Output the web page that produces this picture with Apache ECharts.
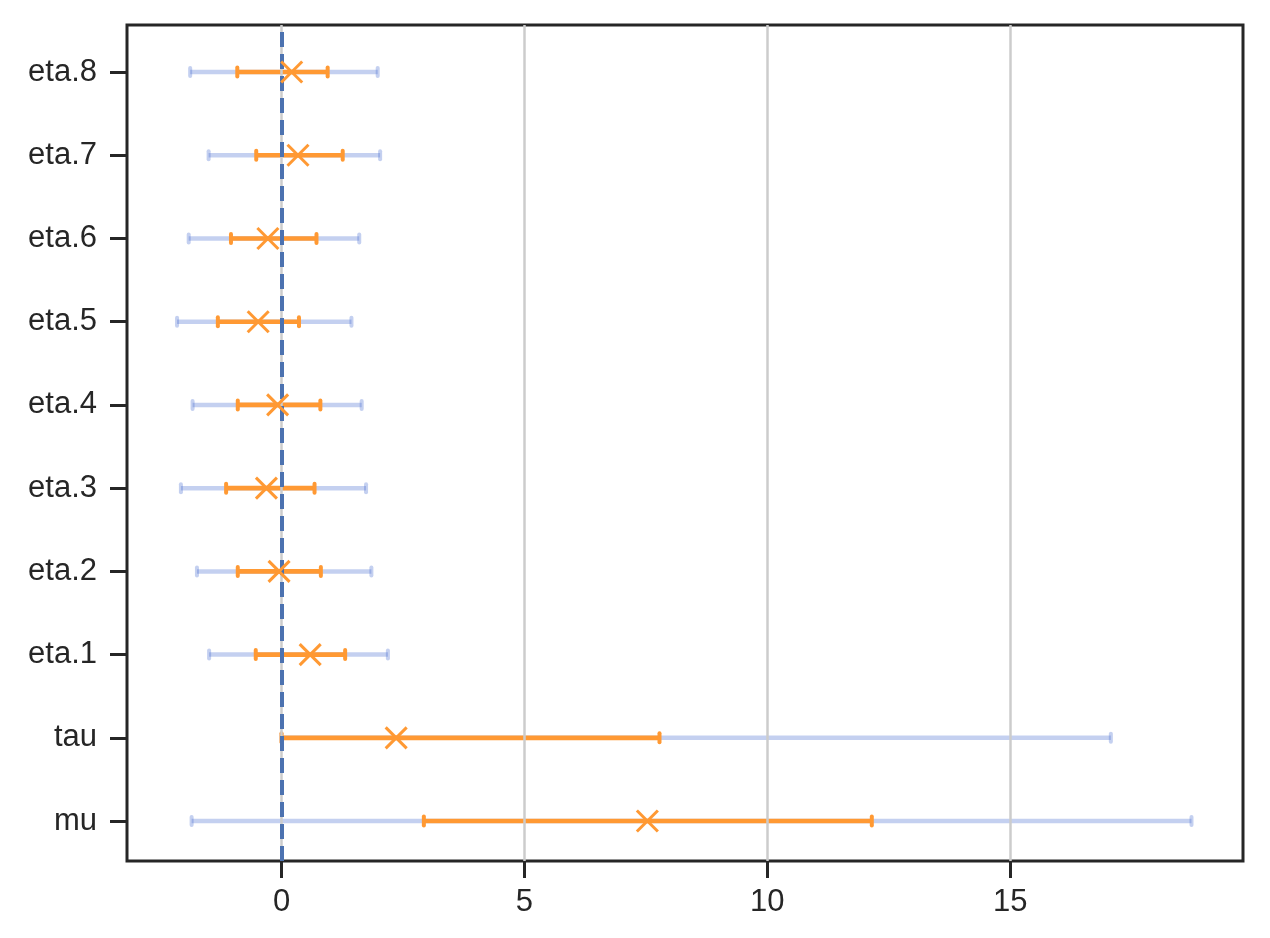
<!DOCTYPE html>
<html>
<head>
<meta charset="utf-8">
<script src="https://cdn.jsdelivr.net/npm/echarts@6/dist/echarts.min.js"></script>
<style>html,body{margin:0;padding:0;background:#fff}#c{width:1270px;height:938px}</style>
</head>
<body>
<div id="c"></div>
<script>
// ---- data ----
const labels   = ['mu', 'tau', 'eta.1', 'eta.2', 'eta.3', 'eta.4', 'eta.5', 'eta.6', 'eta.7', 'eta.8'];
const means    = [7.53, 2.36, 0.59, -0.05, -0.31, -0.08, -0.48, -0.28, 0.34, 0.21];
const innerLo  = [2.93, 0.00, -0.53, -0.90, -1.14, -0.90, -1.31, -1.04, -0.52, -0.91];
const innerHi  = [12.15, 7.78, 1.31, 0.81, 0.68, 0.80, 0.36, 0.72, 1.26, 0.95];
const outerLo  = [-1.85, 0.00, -1.49, -1.74, -2.07, -1.83, -2.15, -1.91, -1.50, -1.88];
const outerHi  = [18.73, 17.07, 2.19, 1.85, 1.74, 1.65, 1.44, 1.60, 2.03, 1.98];
const xTicks   = [0, 5, 10, 15];
const refValue = 0;

const ORANGE = '#ff9933';
const BLUE = '#4c72b0';
const LIGHT = 'rgba(60,100,205,0.3)';
const DARK = '#262626';
const FONT = "'Liberation Sans', Arial, sans-serif";

function barData(lo, hi) { return lo.map((v, i) => [v, hi[i], i]); }

function errRender(color, width, capH, capW) {
  return function (params, api) {
    const a = api.coord([api.value(0), api.value(2)]);
    const b = api.coord([api.value(1), api.value(2)]);
    const st = { stroke: color, lineWidth: width, fill: null };
    const cs = { stroke: color, lineWidth: capW, fill: null, lineCap: 'round' };
    return {
      type: 'group',
      children: [
        { type: 'line', shape: { x1: a[0], y1: a[1], x2: b[0], y2: b[1] }, style: st },
        { type: 'line', shape: { x1: a[0], y1: a[1] - capH / 2, x2: a[0], y2: a[1] + capH / 2 }, style: cs },
        { type: 'line', shape: { x1: b[0], y1: b[1] - capH / 2, x2: b[0], y2: b[1] + capH / 2 }, style: cs }
      ]
    };
  };
}

function markRender(params, api) {
  const p = api.coord([api.value(0), api.value(1)]);
  const r = 10.5;
  const st = { stroke: ORANGE, lineWidth: 3, fill: null };
  return {
    type: 'group',
    children: [
      { type: 'line', shape: { x1: p[0] - r, y1: p[1] - r, x2: p[0] + r, y2: p[1] + r }, style: st },
      { type: 'line', shape: { x1: p[0] - r, y1: p[1] + r, x2: p[0] + r, y2: p[1] - r }, style: st }
    ]
  };
}

const chart = echarts.init(document.getElementById('c'), null, { renderer: 'canvas' });
chart.setOption({
  animation: false,
  backgroundColor: '#fff',
  grid: { left: 127, right: 27, top: 25, bottom: 77, show: true, borderColor: DARK, borderWidth: 3, backgroundColor: 'transparent', containLabel: false },
  xAxis: {
    type: 'value', min: -3.18, max: 19.79,
    axisLine: { show: false, onZero: false },
    axisTick: { show: true, customValues: xTicks, length: 17, lineStyle: { color: DARK, width: 3 } },
    axisLabel: { show: true, customValues: xTicks, margin: 26, color: DARK, fontSize: 31, fontFamily: FONT },
    splitLine: { show: false }
  },
  yAxis: {
    type: 'value', min: -0.48, max: 9.565,
    axisLine: { show: false, onZero: false },
    axisTick: { show: true, customValues: labels.map((_, i) => i), length: 17, lineStyle: { color: DARK, width: 3 } },
    axisLabel: { show: true, customValues: labels.map((_, i) => i), margin: 30, color: DARK, fontSize: 31, fontFamily: FONT,
      formatter: v => labels[Math.round(v)] },
    splitLine: { show: false }
  },
  series: [
    {
      type: 'line', data: [], z: 1, silent: true,
      markLine: { silent: true, symbol: 'none', label: { show: false }, animation: false,
        lineStyle: { color: '#cccccc', width: 2.5, type: 'solid' },
        data: xTicks.map(v => ({ xAxis: v })) }
    },
    {
      type: 'custom', z: 2, silent: true,
      renderItem: errRender(LIGHT, 4.5, 8, 4),
      encode: { x: [0, 1], y: 2 },
      data: barData(outerLo, outerHi)
    },
    {
      type: 'custom', z: 3, silent: true,
      renderItem: errRender(ORANGE, 4.6, 9, 4),
      encode: { x: [0, 1], y: 2 },
      data: barData(innerLo, innerHi)
    },
    {
      type: 'line', data: [], z: 4, silent: true,
      markLine: { silent: true, symbol: 'none', label: { show: false }, animation: false,
        lineStyle: { color: BLUE, width: 4, type: [15, 7] },
        data: [{ xAxis: refValue }] }
    },
    {
      type: 'custom', z: 5, silent: true,
      renderItem: markRender,
      encode: { x: 0, y: 1 },
      data: means.map((m, i) => [m, i])
    }
  ]
});
</script>
</body>
</html>
